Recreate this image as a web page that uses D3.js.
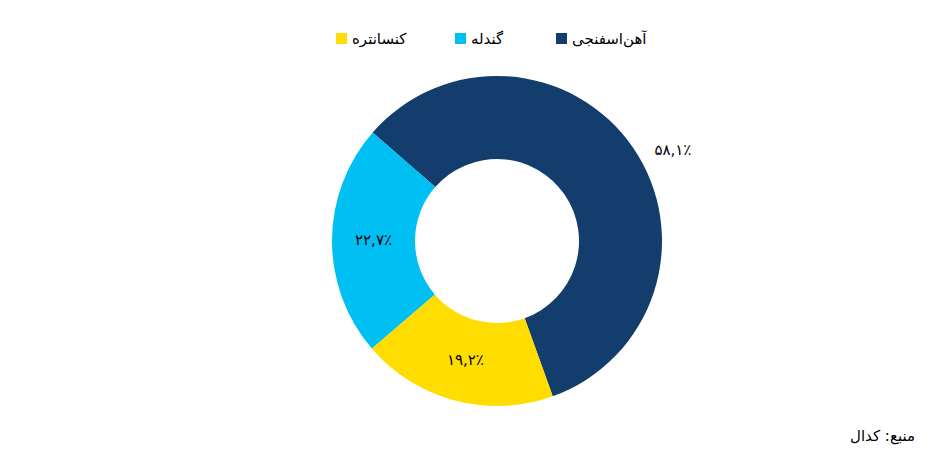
<!DOCTYPE html>
<html><head><meta charset="utf-8">
<script src="https://cdn.jsdelivr.net/npm/d3@7"></script>
<style>body{margin:0;background:#fff}svg{display:block}text{font-family:"DejaVu Sans",sans-serif}</style>
</head><body>
<svg id="c" width="945" height="472"></svg>
<script>
const categories = ["آهن‌اسفنجی", "کنسانتره", "گندله"];
const values = [58.1, 19.2, 22.7];
const valueLabels = ["۵۸,۱٪", "۱۹,۲٪", "۲۲,۷٪"];
const legendOrder = ["کنسانتره", "گندله", "آهن‌اسفنجی"];
const colors = {"آهن‌اسفنجی":"#133D6C","کنسانتره":"#FFDD00","گندله":"#00BFF3"};

const svg = d3.select("#c");
const cx = 497, cy = 241, R = 165, r = 82;
const start = -48.9 * Math.PI / 180;
const pie = d3.pie().sort(null).value(d => d.v).startAngle(start).endAngle(start + 2*Math.PI);
const data = categories.map((c,i)=>({c, v: values[i], l: valueLabels[i]}));
const arcs = pie(data);
const arc = d3.arc().innerRadius(r).outerRadius(R);
const g = svg.append("g").attr("transform", `translate(${cx},${cy})`);
g.selectAll("path").data(arcs).join("path").attr("d", arc).attr("fill", d => colors[d.data.c]);

// labels
const labelArcIn = d3.arc().innerRadius((r+R)/2).outerRadius((r+R)/2);
const labelArcOut = d3.arc().innerRadius(R+33).outerRadius(R+33);
g.selectAll("text.v").data(arcs).join("text").attr("class","v")
  .attr("transform", (d,i) => {
    let p;
    if (i === 0) {
      const m = (d.startAngle + d.endAngle)/2 + 7*Math.PI/180;
      p = labelArcOut.centroid({startAngle: m, endAngle: m});
    } else p = labelArcIn.centroid(d);
    return `translate(${p[0]},${p[1]})`;
  })
  .attr("text-anchor","middle").attr("dominant-baseline","central")
  .attr("font-size", 15).attr("fill","#000").text(d => d.data.l);

// legend
const legX = [336, 455, 556];
const lg = svg.append("g");
legendOrder.forEach((c,i) => {
  lg.append("rect").attr("x", legX[i]).attr("y", 33).attr("width", 11).attr("height", 11).attr("fill", colors[c]);
  lg.append("text").attr("x", legX[i] + 16).attr("y", 39).attr("dominant-baseline","central")
    .attr("text-anchor","start").attr("font-size", 15).attr("fill","#000").text(c);
});

svg.append("text").attr("x", 915).attr("y", 436).attr("text-anchor","end").attr("dominant-baseline","central")
  .attr("font-size", 15).attr("fill","#000").text("منبع: کدال");
</script>
</body></html>
